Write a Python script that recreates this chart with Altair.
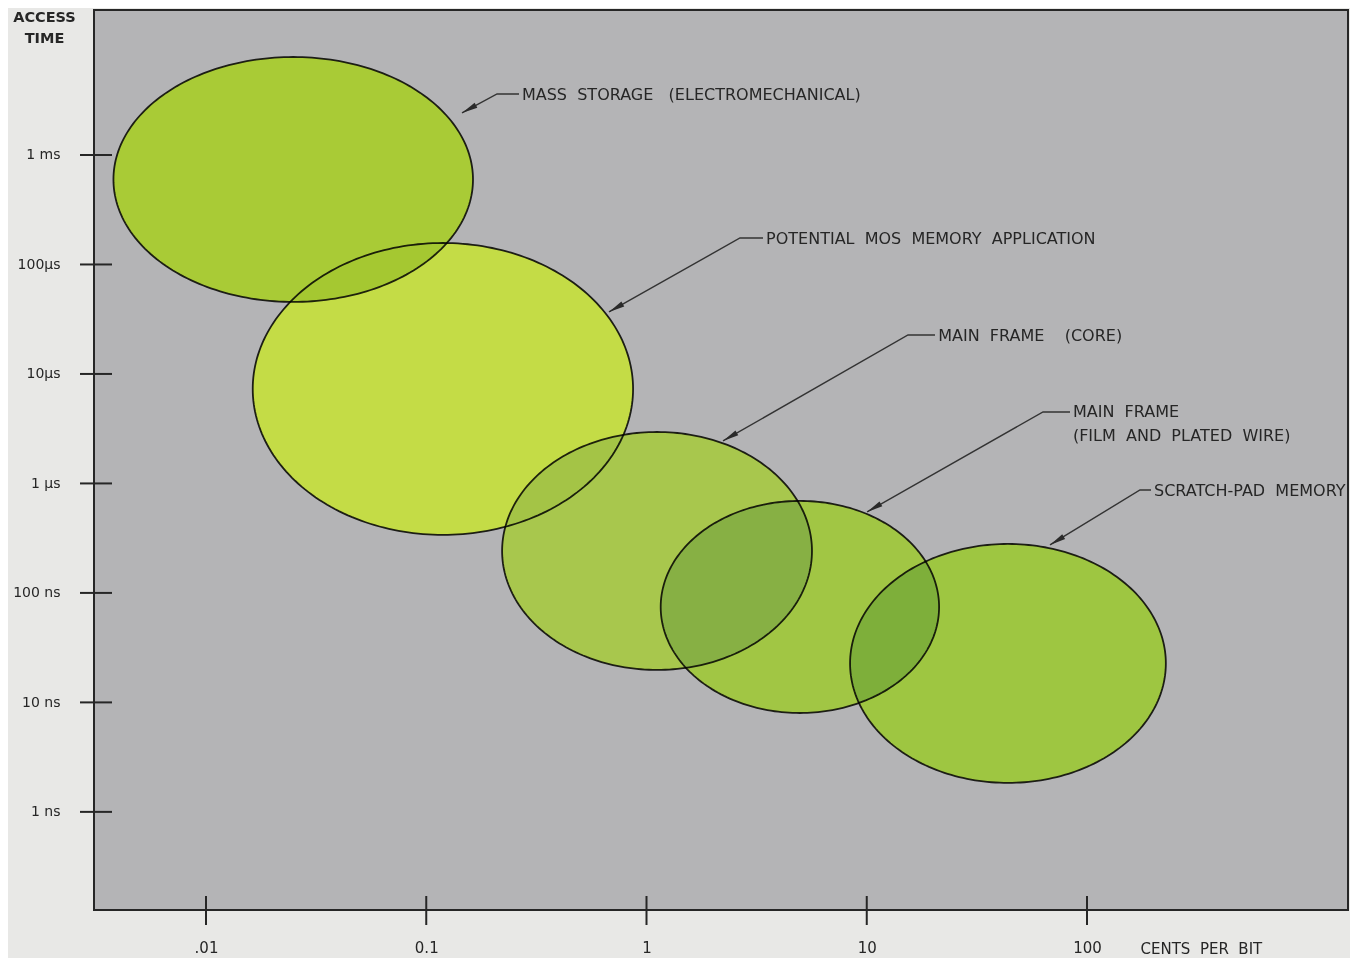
import math
import altair as alt
import pandas as pd

# ---------------- data ----------------
# memory technologies: ranges of cost (cents per bit) and access time (seconds)
names = ["Mass storage", "Potential MOS memory", "Main frame (core)",
         "Main frame (film and plated wire)", "Scratch-pad memory"]
cost_low = [0.0038, 0.0163, 0.221, 1.16, 8.4]
cost_high = [0.163, 0.869, 5.64, 21.3, 228.0]
time_low = [4.55e-5, 3.39e-7, 1.98e-8, 8.0e-9, 1.84e-9]
time_high = [7.85e-3, 1.57e-4, 2.95e-6, 6.92e-7, 2.80e-7]

# annotation text
label_text = [
    "MASS\u00a0\u00a0STORAGE\u00a0\u00a0\u00a0(ELECTROMECHANICAL)",
    "POTENTIAL\u00a0\u00a0MOS\u00a0\u00a0MEMORY\u00a0\u00a0APPLICATION",
    "MAIN\u00a0\u00a0FRAME\u00a0\u00a0\u00a0\u00a0(CORE)",
    "MAIN\u00a0\u00a0FRAME",
    "(FILM\u00a0\u00a0AND\u00a0\u00a0PLATED\u00a0\u00a0WIRE)",
    "SCRATCH-PAD\u00a0\u00a0MEMORY",
]
label_cost = [0.272, 3.49, 21.1, 86.3, 86.3, 201.4]
label_time = [3.53e-3, 1.71e-4, 2.22e-5, 4.50e-6, 2.72e-6, 8.55e-7]

# leader lines (label -> elbow -> arrow tip)
leader_id = [0, 0, 0, 1, 1, 1, 2, 2, 2, 3, 3, 3, 4, 4, 4]
leader_seq = [0, 1, 2] * 5
leader_cost = [0.2637, 0.2096, 0.1453, 3.380, 2.657, 0.6755, 20.41, 15.39, 2.225,
               83.72, 63.13, 10.03, 195.3, 174.0, 67.9]
leader_time = [3.606e-3, 3.606e-3, 2.419e-3, 1.746e-4, 1.746e-4, 3.683e-5,
               2.271e-5, 2.271e-5, 2.444e-6, 4.498e-6, 4.498e-6, 5.490e-7,
               8.72e-7, 8.72e-7, 2.744e-7]

# axis ticks
x_tick_values = [0.01, 0.1, 1, 10, 100]
x_tick_labels = [".01", "0.1", "1", "10", "100"]
y_tick_values = [1e-3, 1e-4, 1e-5, 1e-6, 1e-7, 1e-8, 1e-9]
y_tick_labels = ["1 ms", "100\u00b5s", "10\u00b5s", "1 \u00b5s", "100 ns", "10 ns", "1 ns"]

# ---------------- styles ----------------
W, H = 1254, 900
FONT = "DejaVu Sans"
INK = "#262626"
PLOT_BG = "#b4b4b6"
PAGE_BG = "#e8e8e6"
BASE_GREEN = "#c9e04d"
FILTERS = ["#d6e7b1", "#f9fbe6", "#d5e3fd", "#cde2e2", "#c8e2d8"]
ARROW_ANGLE = [241, 240, 240, 240, 239]

ell_df = pd.DataFrame({"name": names, "cost_lo": cost_low, "cost_hi": cost_high,
                       "time_lo": time_low, "time_hi": time_high})
lab_df = pd.DataFrame({"text": label_text, "cost": label_cost, "time": label_time})
lead_df = pd.DataFrame({"id": leader_id, "seq": leader_seq,
                        "cost": leader_cost, "time": leader_time})
tip_df = lead_df[lead_df["seq"] == 2].copy()
tip_df["angle"] = ARROW_ANGLE
xt_df = pd.DataFrame({"cost": x_tick_values})
yt_df = pd.DataFrame({"time": y_tick_values})


def label_expr(values, labels):
    expr = "''"
    for v, lab in reversed(list(zip(values, labels))):
        expr = f"abs(log(datum.value)/LN10 - ({math.log10(v):.4f})) < 0.01 ? '{lab}' : " + expr
    return expr


xscale = alt.Scale(type="log", domain=[0.003101, 1531.0], nice=False)
yscale = alt.Scale(type="log", domain=[1.27e-10, 0.0211], nice=False)

xaxis = alt.Axis(values=x_tick_values, labelExpr=label_expr(x_tick_values, x_tick_labels),
                 ticks=False, tickSize=0, domain=False, grid=False,
                 labelPadding=30, labelBaseline="top", labelFontSize=15, labelColor=INK,
                 labelFont=FONT, title="CENTS\u00a0\u00a0PER\u00a0\u00a0BIT", titleFont=FONT,
                 titleFontSize=15, titleFontWeight="normal", titleColor=INK,
                 titleAlign="left", titleBaseline="middle", titleX=1046, titleY=38,
                 labelFlush=False)
yaxis = alt.Axis(values=y_tick_values, labelExpr=label_expr(y_tick_values, y_tick_labels),
                 ticks=False, tickSize=0, domain=False, grid=False,
                 labelPadding=34, labelFontSize=14, labelColor=INK, labelFont=FONT,
                 labelBaseline="middle",
                 title=["ACCESS", "TIME"], titleFont=FONT, titleFontSize=14.5,
                 titleFontWeight="bold", titleColor=INK, titleAngle=0,
                 titleAlign="center", titleBaseline="middle", titleX=-50, titleY=7,
                 titleLineHeight=21, labelFlush=False)

ell_base = (
    alt.Chart(ell_df)
    .transform_calculate(k="sequence(0, 121)")
    .transform_flatten(["k"])
    .transform_calculate(
        cx="(log(datum.cost_lo) + log(datum.cost_hi)) / 2",
        rx="(log(datum.cost_hi) - log(datum.cost_lo)) / 2",
        cy="(log(datum.time_lo) + log(datum.time_hi)) / 2",
        ry="(log(datum.time_hi) - log(datum.time_lo)) / 2",
        th="PI * datum.k / 120",
    )
    .transform_calculate(
        ex="exp(datum.cx + datum.rx * cos(datum.th))",
        ey1="exp(datum.cy + datum.ry * sin(datum.th))",
        ey2="exp(datum.cy - datum.ry * sin(datum.th))",
    )
)

ell_enc = dict(
    x=alt.X("ex:Q", scale=xscale, axis=xaxis),
    y=alt.Y("ey1:Q", scale=yscale, axis=yaxis),
    y2="ey2:Q",
    detail="name:N",
)

base_layer = ell_base.mark_area(color=BASE_GREEN, interpolate="linear").encode(**ell_enc)
tint_layer = ell_base.mark_area(blend="multiply", stroke=INK, strokeWidth=1.8,
                                fillOpacity=1, interpolate="linear").encode(
    color=alt.Color("name:N", scale=alt.Scale(domain=names, range=FILTERS), legend=None),
    **ell_enc,
)

ytick_layer = alt.Chart(yt_df).mark_rule(color=INK, strokeWidth=2).encode(
    y=alt.Y("time:Q", scale=yscale, axis=yaxis),
    x=alt.value(-14), x2=alt.value(18),
)
xtick_layer = alt.Chart(xt_df).mark_rule(color=INK, strokeWidth=2).encode(
    x=alt.X("cost:Q", scale=xscale, axis=xaxis),
    y=alt.value(H - 14), y2=alt.value(H + 15),
)

lead_layer = alt.Chart(lead_df).mark_line(color="#333333", strokeWidth=1.4).encode(
    x=alt.X("cost:Q", scale=xscale, axis=xaxis),
    y=alt.Y("time:Q", scale=yscale, axis=yaxis),
    detail="id:N",
    order="seq:Q",
)
tip_layer = alt.Chart(tip_df).mark_point(
    shape="M0,0 L0.7,4 L-0.7,4 Z", filled=True, color="#2a2a2a", size=64, opacity=1
).encode(
    x=alt.X("cost:Q", scale=xscale, axis=xaxis),
    y=alt.Y("time:Q", scale=yscale, axis=yaxis),
    angle=alt.Angle("angle:Q", scale=None),
)

text_layer = alt.Chart(lab_df).mark_text(
    align="left", baseline="middle", font=FONT, fontSize=16, color=INK
).encode(
    x=alt.X("cost:Q", scale=xscale, axis=xaxis),
    y=alt.Y("time:Q", scale=yscale, axis=yaxis),
    text="text:N",
)

chart = (
    alt.layer(base_layer, tint_layer, lead_layer, tip_layer, text_layer,
              ytick_layer, xtick_layer)
    .properties(
        width=W, height=H,
        autosize=alt.AutoSizeParams(type="none"),
        padding={"left": 86, "top": 2, "right": 2, "bottom": 48},
        background=PAGE_BG,
    )
    .configure_view(fill=PLOT_BG, stroke=INK, strokeWidth=2)
)

chart.save("out.html", embed_options={"renderer": "svg", "actions": False})
